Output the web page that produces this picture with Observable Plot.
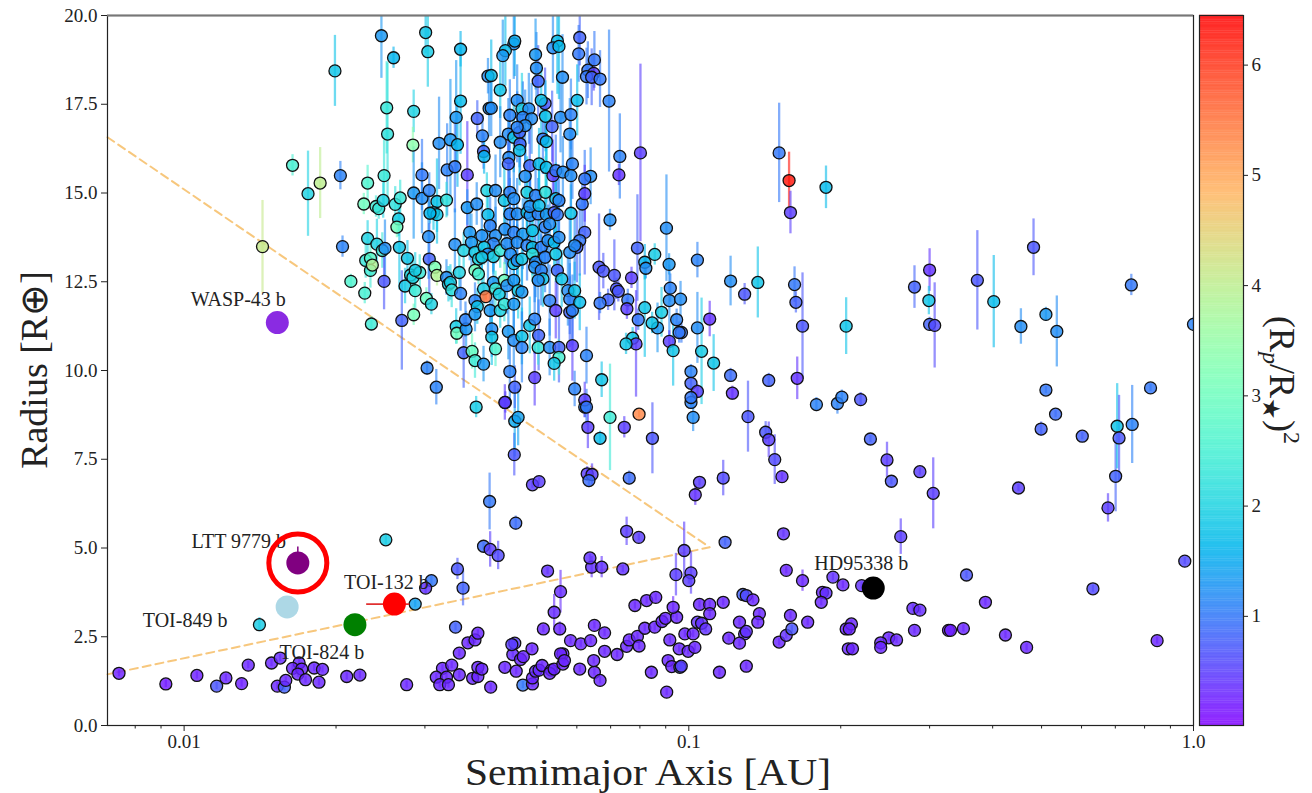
<!DOCTYPE html>
<html><head><meta charset="utf-8">
<script src="https://cdn.jsdelivr.net/npm/d3@7"></script>
<script src="https://cdn.jsdelivr.net/npm/@observablehq/plot@0.6"></script>
<style>
body{margin:0;background:#fff;}
#wrap{position:relative;width:1312px;height:793px;overflow:hidden;font-family:"Liberation Serif",serif;color:#222;background:#fff;}
#wrap svg{position:absolute;top:0;}
.lab{position:absolute;white-space:nowrap;line-height:1;}
#xlab{left:648px;top:754px;transform:translate(-50%,0) scaleX(1.12);font-size:37px;}
#ylab{left:34px;top:370px;transform:translate(-50%,-50%) rotate(-90deg);font-size:38px;}
#cblab{left:1281px;top:380px;transform:translate(-50%,-50%) rotate(90deg);font-size:36px;}
#cblab sub{font-size:24px;vertical-align:-7px;}
#cblab sup{font-size:24px;vertical-align:14px;}
</style></head><body><div id="wrap"></div>
<script>
// ---- data: [semimajor axis (AU), radius (R_earth), (Rp/R*)^2, radius error] ----
const smallPlanets = [
[0.00743,1.47,0.25,0.1],[0.0092,1.17,0.2,0.1],[0.0106,1.41,0.25,0.1],[0.0116,1.11,0.7,0.1],[0.0121,1.34,0.3,0.1],
[0.0130,1.18,0.25,0.1],[0.0134,1.70,0.3,0.1],[0.0149,1.76,0.3,0.1],[0.0155,1.90,0.35,0.1],[0.0153,1.11,0.3,0.1],
[0.0158,1.08,0.8,0.1],[0.0159,1.27,0.3,0.1],[0.0169,1.76,0.3,0.1],[0.0164,1.61,0.3,0.1],[0.0171,1.59,0.3,0.1],
[0.0168,1.45,0.3,0.1],[0.0174,1.29,0.3,0.1],[0.0181,1.62,0.3,0.1],[0.0188,1.58,0.3,0.1],[0.0185,1.22,0.3,0.1],
[0.0210,1.38,0.3,0.1],[0.0223,1.42,0.3,0.1],[0.0276,1.15,0.3,0.1],[0.0141,2.84,1.9,0.2],
[0.0309,4.08,1.0,0.15],[0.0301,3.87,0.4,0.15],[0.0287,3.42,1.4,0.1],
[0.0348,4.41,0.7,0.3],[0.0357,3.87,0.8,0.5],[0.0345,2.77,0.8,0.1],[0.0325,1.61,0.3,0.1],[0.0339,1.70,0.3,0.1],
[0.0316,1.36,0.3,0.1],[0.0331,1.36,0.3,0.1],[0.0321,1.15,0.3,0.1],[0.0334,1.15,0.3,0.1],[0.0351,1.43,0.3,0.1],
[0.0365,2.33,0.3,0.1],[0.0377,2.41,0.3,0.1],[0.0382,2.60,0.3,0.1],[0.0351,2.04,0.3,0.1],[0.0373,1.33,0.3,0.1],
[0.0382,1.38,0.3,0.1],[0.0382,1.64,0.3,0.1],[0.0389,1.59,0.3,0.1],[0.0405,1.08,0.3,0.1],[0.0432,1.64,0.3,0.1],
[0.0455,1.53,0.3,0.1],[0.0448,2.00,0.35,0.1],[0.0452,2.32,0.5,0.1],[0.0446,2.28,0.5,0.1],[0.0464,1.86,0.3,0.1],
[0.0470,1.94,0.3,0.1],[0.0489,2.16,0.3,0.1],[0.0469,1.14,1.0,0.1],[0.0490,1.17,0.3,0.1],[0.0490,1.34,0.3,0.1],
[0.0497,1.53,0.35,0.1],[0.0505,1.56,0.35,0.1],[0.0512,1.69,0.3,0.1],[0.0534,1.56,0.3,0.1],[0.0530,1.47,0.3,0.1],
[0.0541,1.59,0.3,0.1],[0.0515,2.72,0.3,0.1],[0.0555,2.72,0.3,0.2],[0.0541,3.19,0.35,0.5],[0.0557,3.77,0.35,0.6],
[0.0525,4.35,0.4,0.1],[0.0563,2.02,0.3,0.1],[0.0557,2.02,0.3,0.1],[0.0563,1.73,0.25,0.1],[0.0567,1.83,0.3,0.1],
[0.0583,2.39,0.3,0.1],[0.0611,2.30,0.3,0.1],[0.0639,2.39,0.3,0.1],[0.0608,1.59,0.3,0.1],[0.0650,1.50,0.3,0.1],
[0.0667,1.27,0.3,0.1],[0.0648,1.83,0.3,0.1],[0.0681,2.09,0.3,0.1],[0.0650,2.82,0.3,0.1],[0.0681,2.61,0.3,0.1],
[0.0642,4.46,0.4,0.3],[0.0672,4.46,0.4,0.3],[0.0740,4.41,0.4,0.1],[0.0721,2.00,0.3,0.1],[0.0753,2.23,0.3,0.1],
[0.0762,2.41,0.3,0.1],[0.0791,2.51,0.3,0.1],[0.0797,2.24,0.3,0.1],[0.0818,2.74,0.3,0.1],[0.0856,2.77,0.3,0.1],
[0.0885,2.93,0.3,0.1],[0.0899,3.02,0.3,0.1],[0.0782,3.38,0.3,0.1],[0.0825,3.52,0.3,0.1],[0.0860,3.61,0.3,0.1],
[0.0843,1.50,0.3,0.1],[0.0910,1.83,0.3,0.1],[0.0925,1.66,0.3,0.1],[0.0960,1.64,0.8,0.1],[0.0966,1.67,0.5,0.1],
[0.0904,0.94,0.3,0.1],[0.0917,2.41,0.3,0.1],[0.0957,2.16,0.3,0.1],[0.0982,2.58,0.3,0.1],[0.0997,2.09,0.3,0.1],
[0.1020,2.58,0.3,0.1],[0.1028,2.20,0.3,0.1],[0.0946,3.05,0.3,0.1],[0.0931,3.33,0.3,0.3],[0.105,3.41,0.3,0.1],
[0.110,3.41,0.3,0.1],[0.110,3.15,0.3,0.1],[0.104,2.91,0.4,0.1],[0.106,2.88,0.4,0.1],[0.108,2.72,0.4,0.1],
[0.117,3.47,0.3,0.1],[0.120,2.46,0.3,0.1],[0.115,1.50,0.3,0.1],[0.126,2.91,0.3,0.1],[0.129,2.58,0.4,0.1],
[0.130,2.65,0.4,0.1],[0.126,2.32,0.3,0.1],[0.130,1.67,0.3,0.1],[0.128,3.69,0.8,0.1],[0.130,3.66,0.6,0.1],
[0.134,3.54,0.3,0.1],[0.138,3.15,0.3,0.1],[0.137,2.91,0.3,0.1],[0.151,2.35,0.3,0.1],[0.156,2.54,0.4,0.1],
[0.160,2.72,0.7,0.1],[0.159,3.10,0.3,0.1],[0.172,2.91,0.3,0.1],[0.184,3.75,0.3,0.1],[0.187,3.73,0.4,0.1],
[0.183,3.47,0.3,0.1],[0.193,4.18,0.4,0.1],[0.202,3.96,0.3,0.1],[0.205,2.72,0.3,0.1],[0.207,2.16,0.3,0.1],
[0.168,4.08,0.3,0.3],[0.156,4.37,0.3,0.1],[0.220,3.94,0.4,0.1],[0.387,3.47,0.3,0.1],[0.632,3.85,0.6,0.1],
[0.847,2.39,0.3,0.1],[0.467,2.20,0.3,0.1],[0.424,2.55,0.3,0.1],[0.350,2.73,0.3,0.1],[0.327,2.68,0.25,0.1],
[0.330,2.68,0.25,0.1],[0.280,2.68,0.3,0.1],[0.278,3.30,0.35,0.1],[0.287,3.25,0.35,0.1],[0.249,2.47,0.3,0.1],
[0.240,2.33,0.3,0.1],[0.240,2.20,0.3,0.1],[0.258,2.41,0.3,0.1],[0.210,2.86,0.3,0.1],[0.208,2.72,0.3,0.1],
[0.211,2.16,0.3,0.1],[0.355,4.24,0.7,0.1]
];
const midPlanets = [
[0.0251,5.23,1.9,0.15],[0.0637,4.72,0.4,0.1],[0.961,4.63,0.6,0.1],
[0.0979,4.93,0.5,0.8],[0.0943,4.25,0.5,0.6],[0.101,4.30,0.5,0.6],[0.100,4.08,0.5,0.1],[0.0753,5.47,0.5,0.4],
[0.0796,5.30,0.5,0.1],[0.118,5.16,0.8,0.1],[0.154,5.40,0.4,0.1],[0.0454,5.70,0.9,0.2],[0.0392,5.05,0.9,0.1],
[0.0404,4.96,0.5,0.5],[0.0419,4.79,0.6,0.4],[0.0403,6.31,1.0,0.8],[0.0451,7.63,0.7,0.6],[0.0490,6.78,0.5,0.1],
[0.0505,6.87,0.5,0.1],[0.0629,7.09,0.5,0.2],[0.0643,7.07,0.5,0.3],[0.0634,6.90,0.9,0.2],[0.0762,6.97,0.9,0.2],
[0.105,6.85,0.5,0.1],[0.103,6.50,0.4,0.3],[0.117,6.97,0.6,0.5],[0.153,7.01,0.4,0.1],[0.148,7.49,0.6,0.7],
[0.247,7.48,0.5,0.5],[0.252,6.88,0.7,0.1],[0.287,7.15,0.5,0.1],[0.305,6.54,0.5,1.0],[0.263,5.32,0.5,0.5],
[0.450,6.69,0.5,0.1],[0.701,7.02,0.8,1.0],[0.677,6.13,0.5,0.4]
];
const warmGiants = [
[0.0379,8.97,1.9,0.3],[0.0433,9.10,0.5,0.3],[0.0452,8.57,1.5,1.0],[0.0459,8.68,1.4,0.8],[0.0622,8.97,1.1,0.3],
[0.0631,8.40,0.5,0.6],[0.0667,8.09,1.7,0.2],[0.0698,8.68,2.4,1.5],[0.0797,8.77,5.3,0.1],[0.0745,8.40,0.5,0.3],
[0.0847,8.09,0.7,1.0],[0.102,8.68,1.2,0.4],[0.101,9.10,1.1,0.2],[0.131,8.70,0.7,1.0],[0.142,8.26,0.7,0.3],
[0.144,8.05,0.5,0.5],[0.179,9.04,1.1,0.2],[0.197,9.07,1.1,0.3],[0.219,9.18,0.7,0.2],[0.229,8.07,0.8,0.1],
[0.499,8.35,0.8,0.2],[0.533,8.77,0.9,0.1],[0.602,8.15,0.8,0.1],[0.706,8.43,1.8,1.2],[0.712,8.10,0.7,1.2],
[0.756,8.48,1.1,1.1],[0.280,12.35,0.8,0.6],[0.300,12.83,0.4,0.6],[0.299,11.97,1.8,0.4],[0.300,11.30,0.8,0.2],
[0.307,11.27,0.6,1.2],[0.373,12.54,0.7,1.4],[0.402,11.94,1.7,1.3],[0.455,11.24,1.2,0.5],[0.510,11.58,1.3,0.2],
[0.536,11.10,1.2,1.0],[0.482,13.47,0.7,0.8],[0.753,12.41,1.0,0.3],[1.0,11.30,1.1,0.2],[0.510,9.45,1.0,0.1],
[0.822,9.51,1.0,0.1],[0.151,16.13,1.0,1.4],[0.158,15.35,6.3,0.8],[0.159,14.45,0.5,0.6],[0.187,15.16,1.7,0.6],
[0.162,12.42,1.0,0.5],[0.163,11.92,0.8,0.3],[0.168,11.25,0.7,1.5],[0.205,11.25,1.8,0.8],[0.164,9.78,0.4,0.6],
[0.144,9.72,0.8,0.2],[0.121,9.86,0.9,0.2],[0.122,9.36,0.4,0.2],[0.201,9.25,1.1,0.2],[0.121,12.52,1.2,0.7],
[0.129,12.15,0.7,0.3],[0.137,12.48,1.8,1.0],[0.104,13.11,1.1,0.5],[0.101,9.97,1.1,0.2],[0.101,9.64,0.8,0.2],
[0.104,9.41,0.5,0.2],[0.101,9.24,1.0,0.2],[0.112,10.21,1.8,0.8],[0.106,10.54,1.9,1.5],[0.110,11.45,0.4,0.5],
[0.104,11.20,1.2,1.0],[0.0967,11.07,1.0,0.3],[0.0957,11.07,1.0,0.3],[0.0946,11.43,1.1,0.3],[0.0919,12.32,1.1,0.4],
[0.0915,11.97,1.2,1.0],[0.0903,14.01,1.2,1.5],[0.0914,12.99,1.3,0.3],[0.0883,11.64,1.9,0.7],[0.0856,13.27,1.9,0.3],
[0.0818,13.05,1.6,0.5],[0.0822,12.88,1.2,0.3],[0.0791,13.45,0.8,1.5],[0.0867,11.20,1.3,0.7],[0.0846,11.34,1.8,0.3],
[0.0818,11.77,1.8,1.4],[0.0794,11.43,1.0,0.3],[0.0774,10.91,1.8,0.3],[0.0786,10.75,0.5,1.5],[0.0751,10.75,1.8,0.3],
[0.0915,10.82,0.5,0.3],[0.0931,10.56,1.8,1.0],[0.0963,12.01,1.2,0.5],[0.0802,16.13,0.5,2.5],[0.0727,15.51,0.4,0.3],
[0.0730,16.03,1.1,1.2],[0.0695,17.59,1.1,2.0],[0.0698,14.24,1.2,0.3],[0.0664,12.91,0.7,1.5],[0.0677,12.80,0.7,0.5],
[0.0712,12.68,0.7,1.0],[0.0719,12.30,0.7,0.3],[0.0725,12.23,0.7,0.3],[0.0770,12.61,0.5,0.3],[0.0757,11.99,1.0,0.3],
[0.0754,11.74,0.5,0.3],[0.0692,11.99,0.8,0.3],[0.0667,11.90,1.0,0.3]
];
const hotJupitersInner = [
[0.0246,19.43,1.3,1.2],[0.0301,19.52,1.8,0.6],[0.0304,18.98,1.9,1.0],[0.0260,18.81,1.6,0.3],[0.0353,19.05,1.6,0.5],
[0.0199,18.44,1.8,1.0],[0.0400,18.29,1.2,0.5],[0.0252,17.40,2.3,1.3],[0.0285,17.30,2.0,0.6],[0.0353,17.59,1.7,1.5],
[0.0346,17.13,1.3,1.6],[0.0381,17.10,0.8,0.5],[0.0402,17.38,1.2,0.8],[0.0253,16.66,2.2,2.0],[0.0284,16.35,3.4,0.5],
[0.0320,16.40,1.2,1.3],[0.0337,16.50,1.3,1.7],[0.0348,16.36,1.6,1.2],[0.0390,16.61,1.1,0.6],[0.0392,16.17,0.8,0.5],
[0.0393,16.03,1.6,0.5],[0.0332,15.65,1.1,1.3],[0.0344,15.74,1.0,1.3],[0.0364,15.51,0.5,1.5],[0.0296,15.51,1.0,1.0],
[0.0204,15.49,1.1,0.4],[0.0249,15.49,2.3,1.0],[0.0231,15.28,2.6,0.5],[0.0285,15.00,1.3,1.3],[0.0296,14.85,1.2,1.0],
[0.0306,15.07,1.1,0.5],[0.0317,14.76,1.8,1.2],[0.0331,14.80,2.2,0.5],[0.0227,14.69,3.0,0.3],[0.0240,14.62,2.4,0.3],
[0.0243,14.56,2.3,0.3],[0.0248,14.79,2.0,0.5],[0.0262,14.68,2.2,0.5],[0.0268,14.86,2.3,0.5],[0.0266,14.27,1.9,0.5],
[0.0312,14.45,1.8,0.5],[0.0317,14.39,1.8,0.5],[0.0364,14.59,1.3,0.5],[0.0380,14.69,1.2,0.6],[0.0400,14.39,1.7,0.6],
[0.0398,15.07,2.0,0.5],[0.0307,14.43,1.6,0.3],
[0.0164,15.78,2.5,0.3],[0.0176,14.98,2.0,1.2],[0.0186,15.28,4.0,1.0],[0.0143,13.49,4.1,1.3],[0.0206,13.49,1.1,0.3],
[0.0214,12.51,2.6,0.2],[0.0228,12.18,2.5,0.3],[0.0235,11.31,2.4,0.2],[0.0231,13.72,2.0,0.5],[0.0229,13.10,2.3,0.5],
[0.0234,13.16,2.7,0.5],[0.0234,12.82,2.4,0.5],[0.0236,12.97,3.9,0.3],[0.0241,13.56,2.0,0.7],[0.0247,13.38,2.4,0.5],
[0.0250,13.44,1.2,0.8],[0.0249,12.51,0.7,0.8],[0.0267,13.47,1.8,1.2],[0.0264,14.04,3.0,0.3],[0.0277,13.16,1.8,0.5],
[0.0274,12.38,1.9,0.5],[0.0285,11.57,3.1,0.3],[0.0270,11.41,0.8,1.4],[0.0287,12.25,2.4,0.5],[0.0281,12.69,2.1,0.5],
[0.0284,12.62,2.0,0.5],[0.0293,12.76,2.3,0.5],[0.0287,12.82,1.9,0.5],[0.0302,12.03,2.9,0.3],[0.0309,11.87,2.0,0.3],
[0.0306,13.14,0.8,1.0],[0.0305,13.77,1.2,1.2],[0.0314,12.91,3.2,0.3],[0.0317,12.68,3.9,0.3],[0.0331,12.62,1.2,0.5],
[0.0334,12.43,1.9,0.5],[0.0303,10.07,1.1,0.2],[0.0316,9.53,1.1,0.5],
[0.0337,12.48,1.9,0.5],[0.0339,12.27,2.2,0.5],[0.0344,13.55,1.2,1.0],[0.0351,12.76,2.0,0.5],[0.0353,12.17,1.1,0.5],
[0.0358,13.38,2.0,0.5],[0.0346,11.24,1.9,0.5],[0.0347,11.05,3.0,0.3],[0.0362,11.17,1.3,0.5],[0.0361,11.43,1.1,0.5],
[0.0358,10.50,0.8,1.0],[0.0372,10.54,2.9,0.5],[0.0377,10.28,2.4,0.5],[0.0392,10.18,1.3,0.5],[0.0368,13.89,1.3,0.8],
[0.0371,13.61,1.3,0.8],[0.0377,13.33,1.9,0.5],[0.0383,13.14,2.0,0.5],[0.0377,12.82,3.1,0.3],[0.0383,12.72,2.5,0.3],
[0.0392,12.30,1.9,0.5],[0.0396,12.08,5.5,0.1],[0.0377,11.97,1.1,0.5],[0.0381,11.80,1.8,0.5],[0.0377,11.59,1.3,0.5]
];
const hotJupitersOuter = [
[0.0404,14.08,1.1,0.8],[0.0414,13.80,1.2,0.8],[0.0410,13.57,1.1,0.8],[0.0393,13.47,1.8,0.5],[0.0400,13.28,1.2,0.8],
[0.0410,13.21,2.0,0.5],[0.0423,13.38,2.3,0.5],[0.0436,13.57,1.2,1.0],[0.0443,13.28,1.2,1.0],[0.0450,13.01,1.8,0.8],
[0.0457,13.10,1.2,1.0],[0.0467,13.14,1.9,0.8],[0.0442,14.41,1.1,1.0],[0.0457,14.41,1.2,1.0],[0.0478,14.45,1.8,1.0],
[0.0485,14.37,1.2,1.2],[0.0503,14.41,1.1,1.0],[0.0522,14.39,1.3,1.0],[0.0541,14.45,0.8,1.0],[0.0549,14.39,1.0,1.0],
[0.0432,13.98,1.2,1.0],[0.0450,13.89,1.1,1.0],[0.0469,13.84,1.3,1.0],[0.0490,13.94,1.8,1.0],[0.0519,14.04,1.1,1.0],
[0.0530,14.13,1.2,1.0],[0.0457,13.61,1.2,1.0],[0.0478,13.52,1.1,1.0],[0.0490,13.47,1.8,0.8],[0.0510,13.47,1.1,1.0],
[0.0526,13.66,1.2,1.0],[0.0541,13.61,1.7,0.8],[0.0490,13.28,2.2,0.8],[0.0497,13.05,1.2,1.0],[0.0519,13.19,1.1,1.0],
[0.0545,13.28,1.9,0.8],[0.0553,13.75,1.2,1.0],[0.0584,14.43,1.8,0.8],[0.0622,13.89,0.8,1.2],[0.0608,13.66,1.0,1.0],
[0.0600,13.47,0.8,1.0],[0.0615,14.69,1.0,0.8],[0.0410,12.48,1.3,0.8],[0.0414,12.30,2.4,0.5],[0.0421,12.15,1.9,0.5],
[0.0431,12.54,3.0,0.5],[0.0436,12.39,1.2,0.8],[0.0450,12.54,1.3,0.8],[0.0459,12.25,2.0,0.8],[0.0467,12.21,1.3,0.8],
[0.0404,11.69,1.3,0.8],[0.0423,11.69,2.0,0.5],[0.0431,11.87,2.3,0.5],[0.0450,11.87,1.3,0.8],[0.0407,11.17,1.2,0.8],
[0.0407,10.94,1.8,0.8],[0.0439,11.10,1.3,0.8],[0.0414,10.61,2.6,0.5],[0.0442,9.97,1.1,0.8],[0.0452,9.53,0.8,0.6],
[0.0432,9.10,0.5,0.5],[0.0450,10.85,1.2,1.0],[0.0467,10.96,1.8,0.8],[0.0467,10.65,1.1,1.0],[0.0484,11.27,1.8,0.8],
[0.0495,11.45,1.1,1.0],[0.0504,10.99,0.8,1.0],[0.0503,10.65,2.3,0.5],[0.0530,10.65,1.2,0.8],[0.0553,10.65,0.8,1.0],
[0.0553,10.37,2.5,0.5],[0.0541,10.20,1.8,0.5],[0.0588,10.70,0.5,1.0],[0.0495,12.91,1.2,1.0],[0.0510,12.82,1.1,1.0],
[0.0514,12.58,1.8,0.8],[0.0503,12.54,1.2,1.0],[0.0530,11.97,1.1,1.0],[0.0545,11.69,0.5,0.8],[0.0549,12.82,0.8,1.0],
[0.0560,12.58,1.8,0.8],[0.0576,12.25,1.2,1.0],[0.0581,12.01,1.1,1.0],[0.0594,12.25,1.8,0.8],[0.0581,11.64,0.8,1.0],
[0.0588,11.69,1.1,1.0],[0.0608,11.92,1.7,0.8],[0.0581,13.33,1.2,1.0],[0.0594,13.52,1.2,1.0],[0.0495,9.80,0.5,0.8],
[0.0594,9.48,1.1,0.5],[0.0622,9.17,0.5,0.5],[0.0627,8.97,1.0,0.5],[0.0672,9.74,1.8,0.5],[0.0627,10.42,1.1,0.8],
[0.0389,13.80,1.2,1.0],[0.0389,13.19,1.9,0.8],
[0.0450,19.20,1.2,1.0],[0.0452,19.28,1.5,1.0],[0.0433,19.01,1.7,1.0],[0.0428,18.87,1.3,1.0],[0.0406,18.31,1.7,1.0],
[0.0423,17.90,1.8,0.8],[0.0406,17.39,1.2,0.8],[0.0497,18.90,1.3,1.0],[0.0499,18.52,1.2,1.0],[0.0503,18.15,0.8,1.0],
[0.0549,19.28,1.7,1.5],[0.0538,19.09,1.2,1.0],[0.0553,19.13,1.7,1.5],[0.0562,18.26,1.2,1.2],[0.0608,19.38,0.8,0.8],
[0.0605,18.92,1.0,0.8],[0.0650,18.75,1.0,0.8],[0.0631,18.46,1.0,0.8],[0.0648,18.37,0.5,0.5],[0.0627,18.28,1.0,0.8],
[0.0642,18.26,0.8,0.8],[0.0667,18.21,1.0,0.8],[0.0519,17.52,0.7,1.0],[0.0510,17.61,1.8,1.0],[0.0601,17.61,1.7,1.0],
[0.0457,17.61,1.2,1.0],[0.0467,17.37,2.0,1.0],[0.0482,17.37,1.2,1.0],[0.0469,17.13,1.1,1.0],[0.0488,17.09,1.2,1.0],
[0.0442,17.19,1.1,1.0],[0.0520,17.16,1.8,1.0],[0.0557,17.13,1.2,1.0],[0.0584,17.21,1.1,1.0],[0.0581,16.66,1.2,1.0],
[0.0536,16.87,0.8,1.0],[0.0439,16.66,1.2,1.0],[0.0450,16.57,1.8,1.0],[0.0462,16.71,0.8,1.0],[0.0463,16.38,0.8,1.0],
[0.0462,16.20,1.8,1.0],[0.0474,16.90,1.2,1.0],[0.0457,16.85,1.1,1.0],[0.0423,16.43,1.2,1.0],[0.0514,16.52,1.0,1.0],
[0.0522,16.45,1.7,1.0],[0.0440,16.00,1.2,1.0],[0.0439,15.82,0.8,1.0],[0.0484,15.77,0.8,1.0],[0.0505,15.82,1.7,1.0],
[0.0522,15.72,1.7,1.0],[0.0538,15.49,0.5,1.0],[0.0545,15.63,1.0,1.0],[0.0563,15.59,1.2,1.0],[0.0588,15.82,1.1,1.0],
[0.0584,15.49,1.2,1.0],[0.0474,15.47,1.2,1.0],[0.0639,15.47,1.2,0.8],[0.0622,15.40,1.0,0.8],[0.0414,15.07,1.2,1.0],
[0.0431,14.79,1.8,1.0],[0.0442,15.02,1.1,1.0],[0.0450,14.84,1.2,1.0],[0.0478,15.02,2.0,1.0],[0.0497,14.93,1.1,1.0],
[0.0520,15.02,2.2,1.0],[0.0545,14.84,1.8,1.0],[0.0553,14.79,1.1,1.0],[0.0622,14.98,0.5,0.8],[0.0484,14.62,1.2,1.0],
[0.0505,14.65,1.7,1.0]
];

// highlighted planets
const namedPlanets = ["WASP-43 b", "LTT 9779 b", "TOI-849 b", "TOI-824 b", "TOI-132 b", "HD95338 b"];
const namedA = [0.0153, 0.0168, 0.0160, 0.0218, 0.0261, 0.232];
const namedR = [11.35, 4.58, 3.34, 2.84, 3.42, 3.87];
const namedColors = ["#8a2be2", "#800080", "#add8e6", "#008000", "#ff0000", "#000000"];
const toi132AErr = [0.0230, 0.0280];

// dashed boundary (Neptune desert)
const boundaryA = [0.00705, 0.110, 0.00705];
const boundaryR = [16.57, 5.02, 1.44];

// ticks
const yTicks = [0, 2.5, 5, 7.5, 10, 12.5, 15, 17.5, 20];
const xMajorTicks = [0.01, 0.1, 1.0];
const xMinorTicks = [0.008, 0.009, 0.02, 0.03, 0.04, 0.05, 0.06, 0.07, 0.08, 0.09, 0.2, 0.3, 0.4, 0.5, 0.6, 0.7, 0.8, 0.9];
const colorTicks = [1, 2, 3, 4, 5, 6];
const colorDomain = [0.01, 6.45];

// ---- styling / layout ----
const labelOffsets = {"WASP-43 b":[-39,-23],"LTT 9779 b":[-59,-21],"TOI-849 b":[-102,14],"TOI-824 b":[-33,28],"TOI-132 b":[-8,-21],"HD95338 b":[-12,-25]};

const rainbow = t => {
  const cl = v => Math.max(0, Math.min(1, v));
  const r = cl(Math.abs(2 * t - 0.5)), g = cl(Math.sin(Math.PI * t)), b = cl(Math.cos(Math.PI * t / 2));
  return `rgb(${Math.round(r*255)},${Math.round(g*255)},${Math.round(b*255)})`;
};
const colorOpts = {type: "linear", domain: colorDomain, interpolate: rainbow};

const planets = [...smallPlanets, ...midPlanets, ...warmGiants, ...hotJupitersInner, ...hotJupitersOuter]
  .map(([a, r, c, e]) => ({a, r, c, e}));
const named = namedPlanets.map((name, i) => ({name, a: namedA[i], r: namedR[i], color: namedColors[i]}));
const boundary = boundaryA.map((a, i) => ({a, r: boundaryR[i]}));

const font = {fontFamily: "'Liberation Serif', serif", fontSize: "19px", color: "#222", background: "transparent", overflow: "visible"};

const marks = [
  Plot.axisY({ticks: yTicks, tickSize: 6, tickPadding: 4, tickFormat: d3.format(".1f"), label: null}),
  Plot.axisX({ticks: xMinorTicks, tickSize: 3.5, tickFormat: () => "", label: null}),
  Plot.axisX({ticks: xMajorTicks, tickSize: 6, tickPadding: 3, tickFormat: d => d === 1 ? "1.0" : String(d), label: null}),
  Plot.line(boundary, {x: "a", y: "r", stroke: "#f5b95c", strokeOpacity: 0.8, strokeWidth: 2, strokeDasharray: "8,5"}),
  Plot.ruleX(planets, {x: "a", y1: d => d.r - d.e, y2: d => d.r + d.e, stroke: "c", strokeWidth: 2.3, strokeOpacity: 0.6, clip: true}),
  Plot.dot(planets, {x: "a", y: "r", r: 6, fill: "c", fillOpacity: 0.82, stroke: "#111", strokeWidth: 1.3, clip: true}),
  Plot.ruleY([{a1: toi132AErr[0], a2: toi132AErr[1], r: namedR[4]}], {x1: "a1", x2: "a2", y: "r", stroke: "#e03030", strokeWidth: 1.6}),
  Plot.ruleX([named[1]], {x: "a", y1: d => d.r, y2: d => d.r + 0.45, stroke: "#800080", strokeWidth: 1.5})
];
named.forEach(p => {
  marks.push(Plot.dot([p], {x: "a", y: "r", r: 11.5, fill: p.color}));
  const [dx, dy] = labelOffsets[p.name];
  marks.push(Plot.text([p], {x: "a", y: "r", text: "name", dx, dy, fontSize: 20, fill: "#222", textAnchor: "middle"}));
});
marks.push(Plot.dot([named[1]], {x: "a", y: "r", r: 29, fill: "none", stroke: "#f00", strokeWidth: 5}));
marks.push(Plot.frame({stroke: "#222", strokeWidth: 1.2}));
marks.push(Plot.ruleY([20], {stroke: "#777", strokeWidth: 2}));

const main = Plot.plot({
  width: 1312, height: 793,
  marginLeft: 107, marginRight: 119, marginTop: 15, marginBottom: 68,
  style: font,
  x: {type: "log", domain: [0.00705, 1.0]},
  y: {domain: [0, 20]},
  color: colorOpts,
  marks
});

// colorbar
const nSteps = 320;
const step = (colorDomain[1] - colorDomain[0]) / nSteps;
const cbSteps = d3.range(nSteps).map(i => colorDomain[0] + i * step);
const cbar = Plot.plot({
  width: 113, height: 793,
  marginLeft: 0, marginRight: 69, marginTop: 15, marginBottom: 68,
  style: font,
  y: {domain: colorDomain},
  color: colorOpts,
  marks: [
    Plot.rect(cbSteps, {y1: d => d, y2: d => d + step * 1.1, fill: d => d + step / 2, fillOpacity: 0.85}),
    Plot.axisY({anchor: "right", ticks: colorTicks, tickSize: 4, tickPadding: 4, tickFormat: d => String(d), label: null}),
    Plot.frame({stroke: "#222", strokeWidth: 1.2})
  ]
});
cbar.style.left = "1199px";
main.style.left = "0px";

const wrap = document.getElementById("wrap");
wrap.appendChild(main);
wrap.appendChild(cbar);
wrap.insertAdjacentHTML("beforeend",
  '<div class="lab" id="xlab">Semimajor Axis [AU]</div>' +
  '<div class="lab" id="ylab">Radius [R\u2295]</div>' +
  '<div class="lab" id="cblab">(R<sub><i>p</i></sub>/R<sub>\u2605</sub>)<sup>2</sup></div>');
</script></body></html>
